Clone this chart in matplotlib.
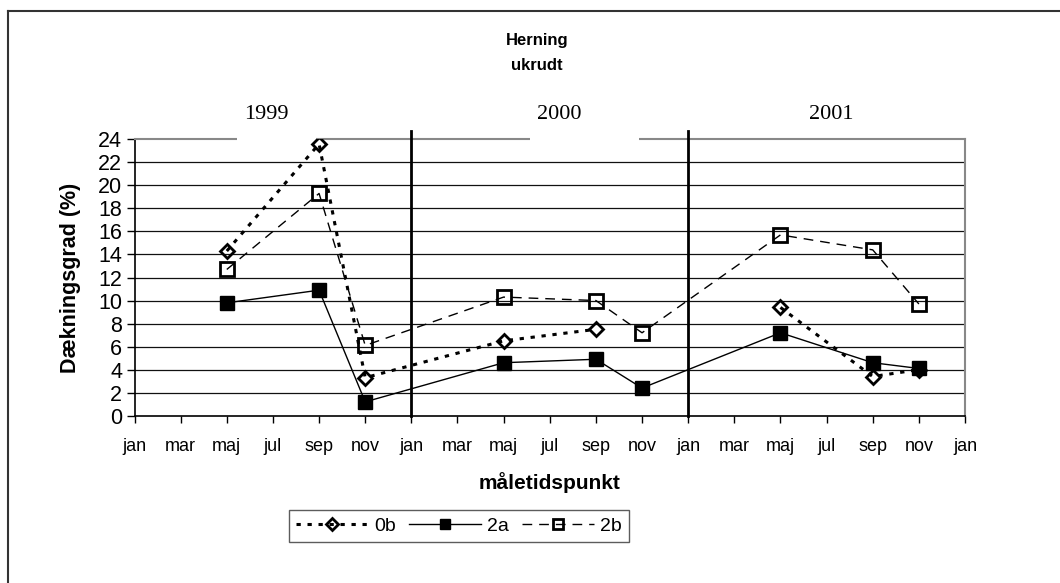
import numpy as np
import matplotlib
matplotlib.use("Agg")
import matplotlib.pyplot as plt
from matplotlib.lines import Line2D
from matplotlib.patches import Rectangle

plt.rcParams['font.family'] = ['Liberation Sans', 'DejaVu Sans']

# months counted from jan 1999
months = [4, 8, 10, 16, 20, 22, 28, 32, 34]
v_0b = [14.3, 23.6, 3.3, 6.5, 7.5, np.nan, 9.4, 3.4, 4.0]
v_2a = [9.8, 10.9, 1.2, 4.6, 4.9, 2.4, 7.2, 4.6, 4.1]
v_2b = [12.7, 19.3, 6.1, 10.3, 10.0, 7.2, 15.7, 14.4, 9.7]
years = ['1999', '2000', '2001']
month_names = ['jan', 'mar', 'maj', 'jul', 'sep', 'nov']

fig = plt.figure(figsize=(10.6, 5.83), dpi=100)
ax = fig.add_axes([0.1269, 0.287, 0.9104 - 0.1269, 0.761 - 0.287])

# outer chart border (runs off the canvas to the right and bottom)
fig.add_artist(Line2D([8/1060, 1], [1 - 11/583, 1 - 11/583], color='#333333', lw=1.5, transform=fig.transFigure))
fig.add_artist(Line2D([8/1060, 8/1060], [0, 1 - 11/583], color='#333333', lw=1.5, transform=fig.transFigure))

ax.set_xlim(0, 36)
ax.set_ylim(0, 24)
ax.set_yticks(range(0, 25, 2))
ax.set_xticks(range(0, 37, 2))
ax.set_xticklabels([month_names[i % 6] for i in range(19)])
ax.tick_params(axis='y', labelsize=15.5, length=6, width=1, pad=3)
ax.tick_params(axis='x', labelsize=13, length=5, width=1, pad=11)

for y in range(2, 24, 2):
    ax.axhline(y, color='#111111', lw=0.9, zorder=1)

ax.spines['top'].set_color('#888888')
ax.spines['right'].set_color('#888888')
ax.spines['top'].set_linewidth(1.5)
ax.spines['right'].set_linewidth(1.5)
ax.spines['left'].set_linewidth(1.2)
ax.spines['bottom'].set_linewidth(1.2)

# year separators
for xm in (12, 24):
    ax.plot([xm, xm], [0, 24.7], color='black', lw=2, clip_on=False, zorder=4)

ax.plot(months, v_0b, color='black', lw=2.2, linestyle=(0, (1.4, 2.2)),
        marker='D', ms=7.5, mfc='none', mec='black', mew=2, label='0b', zorder=5)
ax.plot(months, v_2a, color='black', lw=1, linestyle='-',
        marker='s', ms=10, mfc='black', mec='black', label='2a', zorder=5)
ax.plot(months, v_2b, color='black', lw=1, linestyle=(0, (7, 5)),
        marker='s', ms=9.5, mfc='none', mec='black', mew=2, label='2b', zorder=5)

# white boxes behind year labels that cut the top border
ax.add_patch(Rectangle((4.45, 23.3), 3.4, 3.7, facecolor='white', edgecolor='none', clip_on=False, zorder=3))
ax.add_patch(Rectangle((17.15, 23.3), 4.7, 3.7, facecolor='white', edgecolor='none', clip_on=False, zorder=3))
for yr, xm in zip(years, (5.7, 18.4, 30.2)):
    ax.text(xm, 26.2, yr, ha='center', va='center', fontsize=16,
            family='Liberation Serif', zorder=6)

fig.text(537/1060, 1 - 41/583, 'Herning', ha='center', va='center', fontsize=12, fontweight='bold')
fig.text(537/1060, 1 - 66/583, 'ukrudt', ha='center', va='center', fontsize=12, fontweight='bold')

ax.set_ylabel('Dækningsgrad (%)', fontsize=15.5, fontweight='bold', labelpad=12)
ax.set_xlabel('måletidspunkt', fontsize=15, fontweight='bold', labelpad=12)

leg = ax.legend(loc='center', bbox_to_anchor=(459/1060, 1 - 526/583), bbox_transform=fig.transFigure,
                ncol=3, fontsize=14, frameon=True, fancybox=False, edgecolor='#333333',
                handlelength=3.7, handletextpad=0.3, columnspacing=0.7, borderpad=0.35,
                markerscale=0.75)
leg.get_frame().set_linewidth(1)

fig.savefig('out.png', dpi=100)
